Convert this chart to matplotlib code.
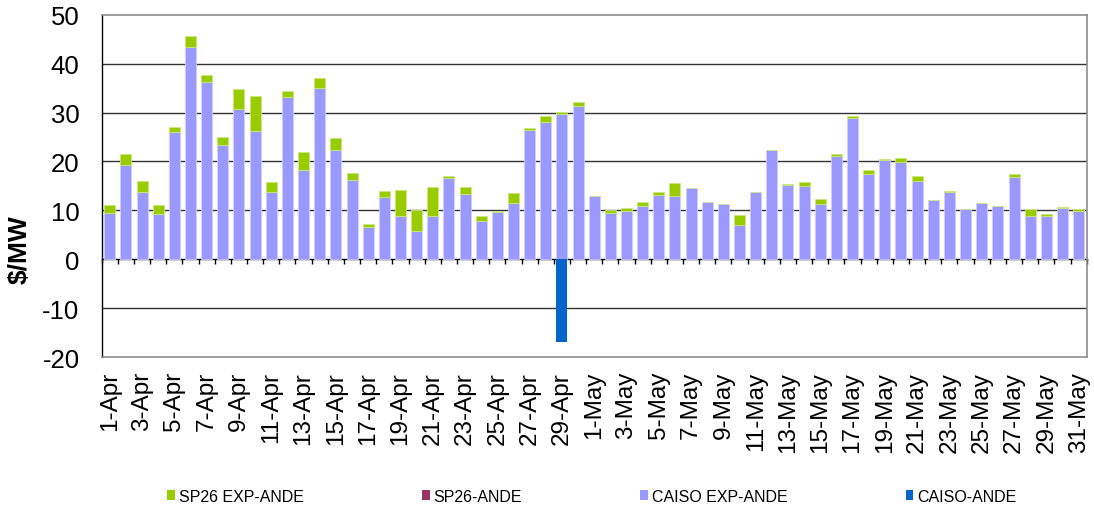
import matplotlib
matplotlib.use("Agg")
import matplotlib.pyplot as plt
from matplotlib.patches import Patch
import numpy as np

plt.rcParams["font.family"] = ["Liberation Sans", "DejaVu Sans"]

days = [f"{d}-Apr" for d in range(1, 31)] + [f"{d}-May" for d in range(1, 32)]

# Day-ahead spreads, $/MW
caiso_exp_ande = [
    9.4, 19.3, 13.8, 9.2, 26.0, 43.4, 36.2, 23.3, 30.7, 26.2,
    13.8, 33.2, 18.3, 35.1, 22.4, 16.2, 6.5, 12.7, 8.8, 5.7,
    8.8, 16.6, 13.3, 7.9, 9.7, 11.6, 26.4, 28.1, 29.7, 31.4,
    12.9, 9.5, 9.9, 10.9, 13.1, 12.9, 14.5, 11.7, 11.2, 7.1,
    13.7, 22.3, 15.1, 14.9, 11.2, 21.1, 28.8, 17.5, 20.3, 19.9,
    16.0, 12.2, 13.8, 10.3, 11.6, 10.9, 16.9, 8.8, 8.9, 10.5, 9.8,
]
sp26_exp_ande = [
    1.7, 2.3, 2.2, 1.8, 1.1, 2.2, 1.4, 1.8, 4.1, 7.1,
    2.0, 1.2, 3.6, 2.0, 2.5, 1.5, 0.8, 1.3, 5.4, 4.3,
    5.9, 0.5, 1.5, 1.0, 0.2, 2.0, 0.5, 1.1, 0.4, 0.8,
    0.0, 0.6, 0.5, 0.8, 0.7, 2.6, 0.0, 0.0, 0.1, 1.9,
    0.0, 0.0, 0.3, 0.9, 1.1, 0.5, 0.4, 0.8, 0.2, 0.8,
    1.0, 0.0, 0.2, 0.0, 0.0, 0.0, 0.6, 1.5, 0.3, 0.2, 0.4,
]
sp26_ande = [0.0] * 61
caiso_ande = [0.0] * 28 + [-17.0] + [0.0] * 32

y_ticks = [-20, -10, 0, 10, 20, 30, 40, 50]

C_SP26_EXP = "#99CC00"
C_SP26 = "#993366"
C_CAISO_EXP = "#9999FF"
C_CAISO = "#0066CC"

fig = plt.figure(figsize=(10.94, 5.10), dpi=100)
ax = fig.add_axes([0.093, 0.298, 0.9003, 0.671])

x = np.arange(len(days))
w = 0.68
base = np.array(caiso_exp_ande)
ax.bar(x, caiso_exp_ande, w, color=C_CAISO_EXP, edgecolor="#D0D0FF", linewidth=0.6, zorder=3)
ax.bar(x, sp26_exp_ande, w, bottom=base, color=C_SP26_EXP, edgecolor="#CCE680", linewidth=0.6, zorder=3)
ax.bar(x, sp26_ande, w, bottom=base + np.array(sp26_exp_ande), color=C_SP26, linewidth=0, zorder=3)
ax.bar(x, caiso_ande, w, color=C_CAISO, linewidth=0, zorder=3)

ax.set_xlim(-0.5, len(days) - 0.5)
ax.set_ylim(-20, 50)
ax.set_yticks(y_ticks)
ax.set_yticklabels([str(t) for t in y_ticks], fontsize=18.5)
ax.tick_params(axis="y", length=0, pad=16)

for t in y_ticks:
    if t not in (0, 50, -20):
        ax.axhline(t, color="#333333", linewidth=1.0, zorder=1)

ax.set_xticks(x[::2])
ax.set_xticklabels(days[::2], rotation=90, fontsize=17.5, va="top", ha="center")
ax.tick_params(axis="x", length=0, pad=10)

for side in ("top", "right", "bottom"):
    ax.spines[side].set_color("#8C8C8C")
    ax.spines[side].set_linewidth(1.2)
ax.spines["left"].set_color("#000000")
ax.spines["left"].set_linewidth(1.0)

# Zero line carrying category-boundary ticks
zero_frac = (0 - (-20)) / 70
sec = ax.secondary_xaxis(zero_frac)
sec.set_xticks(np.arange(-0.5, len(days), 1.0))
sec.tick_params(axis="x", direction="out", length=3.8, width=1.0, color="black", labelbottom=False, labeltop=False)
sec.spines["bottom"].set_color("black")
sec.spines["bottom"].set_linewidth(1.0)

ax.set_ylabel("$/MW", fontsize=19, fontweight="bold")
ax.yaxis.set_label_coords(-0.071, 0.316)

handles = [
    Patch(facecolor=C_SP26_EXP, label="SP26 EXP-ANDE"),
    Patch(facecolor=C_SP26, label="SP26-ANDE"),
    Patch(facecolor=C_CAISO_EXP, label="CAISO EXP-ANDE"),
    Patch(facecolor=C_CAISO, label="CAISO-ANDE"),
]
fig.legend(handles=handles, loc="center", bbox_to_anchor=(0.541, 0.025), ncol=4,
           frameon=False, fontsize=11.5, handlelength=0.48, handleheight=0.58,
           handletextpad=0.25, columnspacing=7.4, borderpad=0.2)

fig.savefig("out.png", dpi=100)
